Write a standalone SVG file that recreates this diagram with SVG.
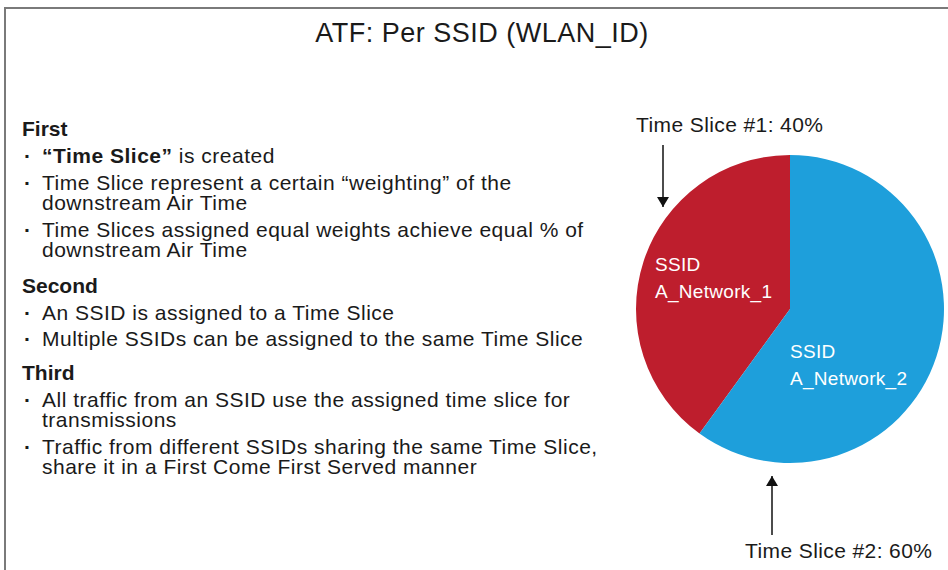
<svg xmlns="http://www.w3.org/2000/svg" width="948" height="570" viewBox="0 0 948 570">
  <defs>
    <marker id="arrow" viewBox="0 0 10 12" refX="10" refY="6" markerWidth="10" markerHeight="12" markerUnits="userSpaceOnUse" orient="auto">
      <path d="M0,0 L10,6 L0,12 Z" fill="#111"/>
    </marker>
    <style>
      text { font-family: "Liberation Sans", Arial, sans-serif; fill: #1a1a1a; }
      .title { font-size: 27px; letter-spacing: 0.5px; text-anchor: middle; }
      .body { font-size: 21px; letter-spacing: 0.5px; }
      .head { font-size: 21px; font-weight: bold; }
      .b { font-weight: bold; }
      .bullet { font-size: 21px; font-weight: bold; }
      .slice-label { font-size: 19px; letter-spacing: 0.3px; fill: #ffffff; }
      .callout { font-size: 21px; letter-spacing: 0.4px; }
      .conn { stroke: #111; stroke-width: 1.5; fill: none; marker-end: url(#arrow); }
    </style>
  </defs>

  <rect x="0" y="0" width="948" height="570" fill="#ffffff"/>
  <rect id="frame" x="5" y="8" width="960" height="600" fill="none" stroke="#7a7a7a" stroke-width="2"/>

  <text id="title" class="title" x="482" y="42">ATF: Per SSID (WLAN_ID)</text>

  <g id="text-list">
    <text class="head" x="22" y="136">First</text>
    <text class="bullet" x="24" y="163">·</text>
    <text class="body" x="42" y="163"><tspan class="b">“Time Slice”</tspan> is created</text>
    <text class="bullet" x="24" y="190">·</text>
    <text class="body" x="42" y="190">Time Slice represent a certain “weighting” of the<tspan x="42" dy="20">downstream Air Time</tspan></text>
    <text class="bullet" x="24" y="237">·</text>
    <text class="body" x="42" y="237">Time Slices assigned equal weights achieve equal % of<tspan x="42" dy="20">downstream Air Time</tspan></text>

    <text class="head" x="22" y="293">Second</text>
    <text class="bullet" x="24" y="320">·</text>
    <text class="body" x="42" y="320">An SSID is assigned to a Time Slice</text>
    <text class="bullet" x="24" y="346">·</text>
    <text class="body" x="42" y="346">Multiple SSIDs can be assigned to the same Time Slice</text>

    <text class="head" x="22" y="380">Third</text>
    <text class="bullet" x="24" y="407">·</text>
    <text class="body" x="42" y="407">All traffic from an SSID use the assigned time slice for<tspan x="42" dy="20">transmissions</tspan></text>
    <text class="bullet" x="24" y="454">·</text>
    <text class="body" x="42" y="454">Traffic from different SSIDs sharing the same Time Slice,<tspan x="42" dy="20">share it in a First Come First Served manner</tspan></text>
  </g>

  <g id="slice1">
    <path d="M790,309 L790,155 A154,154 0 0,0 699.5,433.6 Z" fill="#BE1E2D"/>
    <text class="slice-label" x="655" y="271">SSID</text>
    <text class="slice-label" x="655" y="298">A_Network_1</text>
  </g>

  <g id="slice2">
    <path d="M790,309 L790,155 A154,154 0 1,1 699.5,433.6 Z" fill="#1E9FDB"/>
    <text class="slice-label" x="790" y="358">SSID</text>
    <text class="slice-label" x="790" y="385">A_Network_2</text>
  </g>

  <g id="label1">
    <text class="callout" x="636" y="132">Time Slice #1: 40%</text>
  </g>
  <g id="label2">
    <text class="callout" x="745" y="558">Time Slice #2: 60%</text>
  </g>

  <g id="connectors">
    <line class="conn" x1="663" y1="145" x2="663" y2="207"/>
    <line class="conn" x1="772" y1="535" x2="772" y2="476"/>
  </g>
</svg>
